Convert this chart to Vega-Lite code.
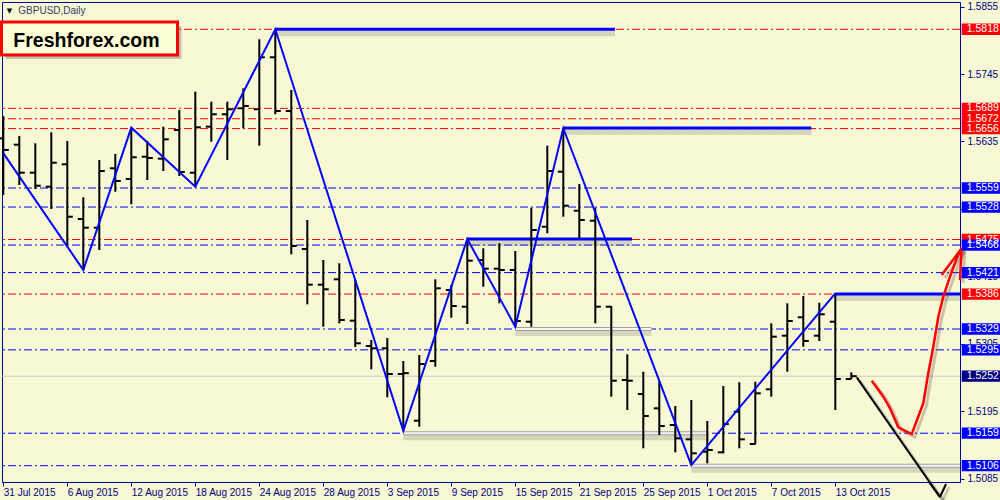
{
  "$schema": "https://vega.github.io/schema/vega-lite/v6.json",
  "width": 958,
  "height": 480,
  "autosize": {"type": "none"},
  "padding": {"left": 2, "top": 2, "right": 40, "bottom": 18},
  "background": "#f8f8d5",
  "config": {
    "view": {"stroke": "#0000a0", "strokeWidth": 1, "fill": "#f8f8d5"},
    "font": "Liberation Sans",
    "axis": {"grid": false, "tickSize": 4, "tickColor": "#0000a0", "domainColor": "#0000a0", "labelFont": "Liberation Sans", "labelFontSize": 10, "labelColor": "#000080", "labelOverlap": false, "labelBound": false, "titleFontSize": 0}
  },
  "datasets": {
    "bars": [
      {"i":0,"o":1.564,"h":1.56765,"l":1.55476,"c":1.56211},
      {"i":1,"o":1.56297,"h":1.56439,"l":1.5564,"c":1.5584},
      {"i":2,"o":1.5584,"h":1.5632,"l":1.55574,"c":1.55628},
      {"i":3,"o":1.55612,"h":1.565,"l":1.55248,"c":1.56003},
      {"i":4,"o":1.55977,"h":1.56358,"l":1.54661,"c":1.55122},
      {"i":5,"o":1.55085,"h":1.55439,"l":1.54253,"c":1.54943},
      {"i":6,"o":1.54943,"h":1.56048,"l":1.54579,"c":1.55868},
      {"i":7,"o":1.55912,"h":1.56145,"l":1.5553,"c":1.55705},
      {"i":8,"o":1.55738,"h":1.56575,"l":1.55325,"c":1.56092},
      {"i":9,"o":1.56101,"h":1.56358,"l":1.55721,"c":1.5608},
      {"i":10,"o":1.56069,"h":1.56591,"l":1.55868,"c":1.56385},
      {"i":11,"o":1.56537,"h":1.56863,"l":1.55786,"c":1.55852},
      {"i":12,"o":1.5584,"h":1.57162,"l":1.55612,"c":1.56581},
      {"i":13,"o":1.56591,"h":1.56999,"l":1.56346,"c":1.56793},
      {"i":14,"o":1.56793,"h":1.56999,"l":1.56048,"c":1.56875},
      {"i":15,"o":1.56891,"h":1.57217,"l":1.56565,"c":1.56929},
      {"i":16,"o":1.56875,"h":1.58017,"l":1.56281,"c":1.57723},
      {"i":17,"o":1.57723,"h":1.5818,"l":1.56793,"c":1.56847},
      {"i":18,"o":1.56847,"h":1.5719,"l":1.54509,"c":1.54644},
      {"i":19,"o":1.54595,"h":1.55069,"l":1.53693,"c":1.54013},
      {"i":20,"o":1.54013,"h":1.54416,"l":1.53328,"c":1.53938},
      {"i":21,"o":1.54101,"h":1.54362,"l":1.53383,"c":1.53437},
      {"i":22,"o":1.53426,"h":1.5409,"l":1.52996,"c":1.53057},
      {"i":23,"o":1.53013,"h":1.53111,"l":1.52633,"c":1.52975},
      {"i":24,"o":1.52975,"h":1.53143,"l":1.52176,"c":1.52556},
      {"i":25,"o":1.52556,"h":1.52768,"l":1.5163,"c":1.5257},
      {"i":26,"o":1.51794,"h":1.52866,"l":1.51696,"c":1.52719},
      {"i":27,"o":1.52768,"h":1.54101,"l":1.52675,"c":1.53954},
      {"i":28,"o":1.53926,"h":1.54008,"l":1.53474,"c":1.53665},
      {"i":29,"o":1.53654,"h":1.54759,"l":1.53372,"c":1.54405},
      {"i":30,"o":1.54416,"h":1.54607,"l":1.5398,"c":1.54274},
      {"i":31,"o":1.54274,"h":1.54688,"l":1.53709,"c":1.54253},
      {"i":32,"o":1.54253,"h":1.54563,"l":1.53328,"c":1.53421},
      {"i":33,"o":1.53409,"h":1.55269,"l":1.53328,"c":1.54905},
      {"i":34,"o":1.54959,"h":1.56281,"l":1.54852,"c":1.55868},
      {"i":35,"o":1.55857,"h":1.56565,"l":1.55122,"c":1.55302},
      {"i":36,"o":1.5522,"h":1.55656,"l":1.5477,"c":1.55069},
      {"i":37,"o":1.55057,"h":1.55269,"l":1.53383,"c":1.53654},
      {"i":38,"o":1.53654,"h":1.53665,"l":1.52186,"c":1.52447},
      {"i":39,"o":1.52458,"h":1.52877,"l":1.51969,"c":1.52447},
      {"i":40,"o":1.5223,"h":1.52593,"l":1.51344,"c":1.51871},
      {"i":41,"o":1.51996,"h":1.5243,"l":1.51561,"c":1.51707},
      {"i":42,"o":1.51724,"h":1.52034,"l":1.51278,"c":1.51507},
      {"i":43,"o":1.5149,"h":1.52132,"l":1.51071,"c":1.51262},
      {"i":44,"o":1.51288,"h":1.51789,"l":1.51099,"c":1.51316},
      {"i":45,"o":1.51278,"h":1.5236,"l":1.51262,"c":1.5174},
      {"i":46,"o":1.51941,"h":1.52421,"l":1.51344,"c":1.5149},
      {"i":47,"o":1.51414,"h":1.5243,"l":1.51409,"c":1.52241},
      {"i":48,"o":1.52306,"h":1.53383,"l":1.52186,"c":1.53165},
      {"i":49,"o":1.53181,"h":1.53709,"l":1.52593,"c":1.53421},
      {"i":50,"o":1.53481,"h":1.53829,"l":1.53001,"c":1.53094},
      {"i":51,"o":1.53181,"h":1.53719,"l":1.53094,"c":1.5353},
      {"i":52,"o":1.53409,"h":1.53873,"l":1.51969,"c":1.52474},
      {"i":53,"o":1.52474,"h":1.52584,"l":1.52474,"c":1.5252}
    ],
    "levels": [
      {"p":1.5818,"kind":"resistance"},
      {"p":1.5689,"kind":"resistance"},
      {"p":1.5672,"kind":"resistance"},
      {"p":1.5656,"kind":"resistance"},
      {"p":1.5475,"kind":"resistance"},
      {"p":1.5386,"kind":"resistance"},
      {"p":1.5559,"kind":"support"},
      {"p":1.5528,"kind":"support"},
      {"p":1.5466,"kind":"support"},
      {"p":1.5421,"kind":"support"},
      {"p":1.5329,"kind":"support"},
      {"p":1.5295,"kind":"support"},
      {"p":1.5159,"kind":"support"},
      {"p":1.5106,"kind":"support"},
      {"p":1.5252,"kind":"bid"}
    ],
    "swingLows": [
      {"i":25,"i2":44.1,"p":1.5159},
      {"i":32,"i2":40.5,"p":1.5329},
      {"i":43,"i2":59.794,"p":1.5106}
    ],
    "swingHighs": [
      {"i":17,"i2":38.23,"p":1.5818},
      {"i":29,"i2":39.3,"p":1.5476},
      {"i":35,"i2":50.5,"p":1.5657},
      {"i":52,"i2":59.794,"p":1.5386}
    ],
    "zigzag": [
      {"i":0,"p":1.5616},{"i":5,"p":1.54253},{"i":8,"p":1.56575},{"i":12,"p":1.55612},
      {"i":17,"p":1.5818},{"i":25,"p":1.5163},{"i":29,"p":1.54759},{"i":32,"p":1.53328},
      {"i":35,"p":1.56565},{"i":43,"p":1.51071},{"i":52,"p":1.53873}
    ],
    "redArrow": [
      {"seg":"curve","k":0,"i":54.28,"p":1.52447},
      {"seg":"curve","k":1,"i":55.0,"p":1.52186},
      {"seg":"curve","k":2,"i":55.42,"p":1.51996},
      {"seg":"curve","k":3,"i":55.94,"p":1.51686},
      {"seg":"curve","k":4,"i":56.78,"p":1.51577},
      {"seg":"curve","k":5,"i":57.5,"p":1.52078},
      {"seg":"curve","k":6,"i":57.81,"p":1.52567},
      {"seg":"curve","k":7,"i":58.09,"p":1.52948},
      {"seg":"curve","k":8,"i":58.44,"p":1.53491},
      {"seg":"curve","k":9,"i":58.75,"p":1.53817},
      {"seg":"curve","k":10,"i":59.17,"p":1.54143},
      {"seg":"curve","k":11,"i":59.59,"p":1.54444},
      {"seg":"curve","k":12,"i":59.9,"p":1.54607},
      {"seg":"barbL","k":0,"i":58.65,"p":1.54171},
      {"seg":"barbL","k":1,"i":59.9,"p":1.54607},
      {"seg":"barbR","k":0,"i":59.79,"p":1.5409},
      {"seg":"barbR","k":1,"i":59.9,"p":1.54607}
    ],
    "blackArrow": [
      {"seg":"shaft","k":0,"i":53.34,"p":1.52502},
      {"seg":"shaft","k":1,"i":58.54,"p":1.50549},
      {"seg":"barbL","k":0,"i":57.86,"p":1.50794},
      {"seg":"barbL","k":1,"i":58.54,"p":1.50549},
      {"seg":"barbR","k":0,"i":58.92,"p":1.50761},
      {"seg":"barbR","k":1,"i":58.54,"p":1.50549}
    ],
    "brandBox": [{"i":-0.1125,"i2":10.8875,"p":1.58299,"p2":1.57761}],
    "notes": [
      {"i":0.9375,"p":1.58479,"t":"GBPUSD,Daily","role":"symbol"},
      {"i":0.39,"p":1.58479,"t":"▼","role":"marker"},
      {"i":0.625,"p":1.57896,"t":"Freshforex.com","role":"brand"}
    ]
  },
  "layer": [
    {
      "data": {"name": "levels"},
      "transform": [{"filter": "datum.kind !== 'bid'"}],
      "mark": {"type": "rule", "strokeWidth": 1, "strokeDash": [8, 3, 2, 3]},
      "encoding": {
        "y": {"field": "p", "type": "quantitative", "scale": {"domain": [1.50794, 1.58625], "nice": false, "zero": false},
          "axis": {"title": null, "orient": "right", "values": [1.5085,1.514,1.5195,1.525,1.5305,1.536,1.5415,1.547,1.5525,1.558,1.5635,1.569,1.5745,1.58,1.5855],
            "format": ".4f", "labelPadding": 3, "labelAlign": "left", "labelBaseline": "middle"}},
        "color": {"field": "kind", "type": "nominal", "scale": {"domain": ["resistance", "support", "bid"], "range": ["#ff0000", "#0000ff", "#000080"]}, "legend": null}
      }
    },
    {
      "data": {"name": "levels"},
      "transform": [{"filter": "datum.kind === 'bid'"}],
      "mark": {"type": "rule", "color": "#c8c8c8", "strokeWidth": 1},
      "encoding": {"y": {"field": "p", "type": "quantitative"}}
    },
    {
      "data": {"name": "swingLows"},
      "mark": {"type": "rule", "color": "#505050", "strokeWidth": 6, "opacity": 0.2, "yOffset": 4},
      "encoding": {
        "x": {"field": "i", "type": "quantitative"},
        "x2": {"field": "i2"},
        "y": {"field": "p", "type": "quantitative"}
      }
    },
    {
      "data": {"name": "swingLows"},
      "mark": {"type": "rule", "color": "#a0a0a0", "strokeWidth": 4},
      "encoding": {
        "x": {"field": "i", "type": "quantitative"},
        "x2": {"field": "i2"},
        "y": {"field": "p", "type": "quantitative"}
      }
    },
    {
      "data": {"name": "swingLows"},
      "mark": {"type": "rule", "color": "#f6f6f6", "strokeWidth": 2},
      "encoding": {
        "x": {"field": "i", "type": "quantitative"},
        "x2": {"field": "i2"},
        "y": {"field": "p", "type": "quantitative"}
      }
    },
    {
      "data": {"name": "swingHighs"},
      "mark": {"type": "rule", "color": "#505050", "strokeWidth": 6, "opacity": 0.2, "yOffset": 4},
      "encoding": {
        "x": {"field": "i", "type": "quantitative"},
        "x2": {"field": "i2"},
        "y": {"field": "p", "type": "quantitative"}
      }
    },
    {
      "data": {"name": "swingHighs"},
      "mark": {"type": "rule", "color": "#0000ff", "strokeWidth": 3},
      "encoding": {
        "x": {"field": "i", "type": "quantitative"},
        "x2": {"field": "i2"},
        "y": {"field": "p", "type": "quantitative"}
      }
    },
    {
      "data": {"name": "bars"},
      "mark": {"type": "rule", "color": "#000000", "strokeWidth": 2},
      "encoding": {
        "x": {"field": "i", "type": "quantitative", "scale": {"domain": [-0.081, 59.794], "nice": false, "zero": false},
          "axis": {"title": null, "orient": "bottom", "values": [0,4,8,12,16,20,24,28,32,36,40,44,48,52],
            "labelExpr": "['31 Jul 2015','6 Aug 2015','12 Aug 2015','18 Aug 2015','24 Aug 2015','28 Aug 2015','3 Sep 2015','9 Sep 2015','15 Sep 2015','21 Sep 2015','25 Sep 2015','1 Oct 2015','7 Oct 2015','13 Oct 2015'][round(datum.value/4)]",
            "labelAlign": "left", "labelPadding": 1, "labelFlush": false}},
        "y": {"field": "h", "type": "quantitative"},
        "y2": {"field": "l"}
      }
    },
    {
      "data": {"name": "bars"},
      "mark": {"type": "point", "shape": "M-1,0H0", "size": 121, "filled": false, "stroke": "#000000", "strokeWidth": 2, "opacity": 1},
      "encoding": {
        "x": {"field": "i", "type": "quantitative"},
        "y": {"field": "o", "type": "quantitative"}
      }
    },
    {
      "data": {"name": "bars"},
      "mark": {"type": "point", "shape": "M0,0H1", "size": 121, "filled": false, "stroke": "#000000", "strokeWidth": 2, "opacity": 1},
      "encoding": {
        "x": {"field": "i", "type": "quantitative"},
        "y": {"field": "c", "type": "quantitative"}
      }
    },
    {
      "data": {"name": "zigzag"},
      "mark": {"type": "line", "color": "#0000ff", "strokeWidth": 2},
      "encoding": {
        "x": {"field": "i", "type": "quantitative"},
        "y": {"field": "p", "type": "quantitative"}
      }
    },
    {
      "data": {"name": "redArrow"},
      "mark": {"type": "line", "color": "#704040", "strokeWidth": 3, "opacity": 0.3, "xOffset": 3, "yOffset": 3, "clip": false},
      "encoding": {
        "x": {"field": "i", "type": "quantitative"},
        "y": {"field": "p", "type": "quantitative"},
        "detail": {"field": "seg"},
        "order": {"field": "k"}
      }
    },
    {
      "data": {"name": "redArrow"},
      "mark": {"type": "line", "color": "#ff0000", "strokeWidth": 2.5, "clip": false},
      "encoding": {
        "x": {"field": "i", "type": "quantitative"},
        "y": {"field": "p", "type": "quantitative"},
        "detail": {"field": "seg"},
        "order": {"field": "k"}
      }
    },
    {
      "data": {"name": "blackArrow"},
      "mark": {"type": "line", "color": "#606060", "strokeWidth": 3, "opacity": 0.3, "xOffset": 3, "yOffset": 3, "clip": false},
      "encoding": {
        "x": {"field": "i", "type": "quantitative"},
        "y": {"field": "p", "type": "quantitative"},
        "detail": {"field": "seg"},
        "order": {"field": "k"}
      }
    },
    {
      "data": {"name": "blackArrow"},
      "mark": {"type": "line", "color": "#000000", "strokeWidth": 2, "clip": false},
      "encoding": {
        "x": {"field": "i", "type": "quantitative"},
        "y": {"field": "p", "type": "quantitative"},
        "detail": {"field": "seg"},
        "order": {"field": "k"}
      }
    },
    {
      "data": {"name": "levels"},
      "mark": {"type": "point", "shape": "M0.09,-0.29H2.06V0.29H0.09Z", "size": 1521, "filled": true, "strokeWidth": 0, "opacity": 1},
      "encoding": {
        "x": {"value": "width"},
        "y": {"field": "p", "type": "quantitative"},
        "color": {"field": "kind", "type": "nominal", "scale": {"domain": ["resistance", "support", "bid"], "range": ["#ff0000", "#0000ff", "#000080"]}, "legend": null}
      }
    },
    {
      "data": {"name": "levels"},
      "mark": {"type": "text", "align": "left", "baseline": "middle", "dx": 6.7, "color": "#ffffff", "font": "Liberation Sans", "fontSize": 10.5},
      "encoding": {
        "x": {"value": "width"},
        "y": {"field": "p", "type": "quantitative"},
        "text": {"field": "p", "type": "quantitative", "format": ".4f"}
      }
    },
    {
      "data": {"name": "brandBox"},
      "mark": {"type": "rect", "color": "#808080", "opacity": 0.45, "xOffset": 4, "x2Offset": 4, "yOffset": 4, "y2Offset": 4, "clip": false},
      "encoding": {
        "x": {"field": "i", "type": "quantitative"},
        "x2": {"field": "i2"},
        "y": {"field": "p", "type": "quantitative"},
        "y2": {"field": "p2"}
      }
    },
    {
      "data": {"name": "brandBox"},
      "mark": {"type": "rect", "fill": "#ffffd6", "stroke": "#ff0000", "strokeWidth": 3, "opacity": 1, "clip": false},
      "encoding": {
        "x": {"field": "i", "type": "quantitative"},
        "x2": {"field": "i2"},
        "y": {"field": "p", "type": "quantitative"},
        "y2": {"field": "p2"}
      }
    },
    {
      "data": {"name": "notes"},
      "transform": [{"filter": "datum.role === 'brand'"}],
      "mark": {"type": "text", "align": "left", "baseline": "alphabetic", "font": "Liberation Sans", "fontSize": 19.5, "fontWeight": "bold", "color": "#000000"},
      "encoding": {
        "x": {"field": "i", "type": "quantitative"},
        "y": {"field": "p", "type": "quantitative"},
        "text": {"field": "t"}
      }
    },
    {
      "data": {"name": "notes"},
      "transform": [{"filter": "datum.role === 'symbol'"}],
      "mark": {"type": "text", "align": "left", "baseline": "middle", "font": "Liberation Sans", "fontSize": 10, "color": "#3a3a66"},
      "encoding": {
        "x": {"field": "i", "type": "quantitative"},
        "y": {"field": "p", "type": "quantitative"},
        "text": {"field": "t"}
      }
    },
    {
      "data": {"name": "notes"},
      "transform": [{"filter": "datum.role === 'marker'"}],
      "mark": {"type": "text", "align": "center", "baseline": "middle", "font": "DejaVu Sans", "fontSize": 7, "color": "#000000"},
      "encoding": {
        "x": {"field": "i", "type": "quantitative"},
        "y": {"field": "p", "type": "quantitative"},
        "text": {"field": "t"}
      }
    }
  ]
}
